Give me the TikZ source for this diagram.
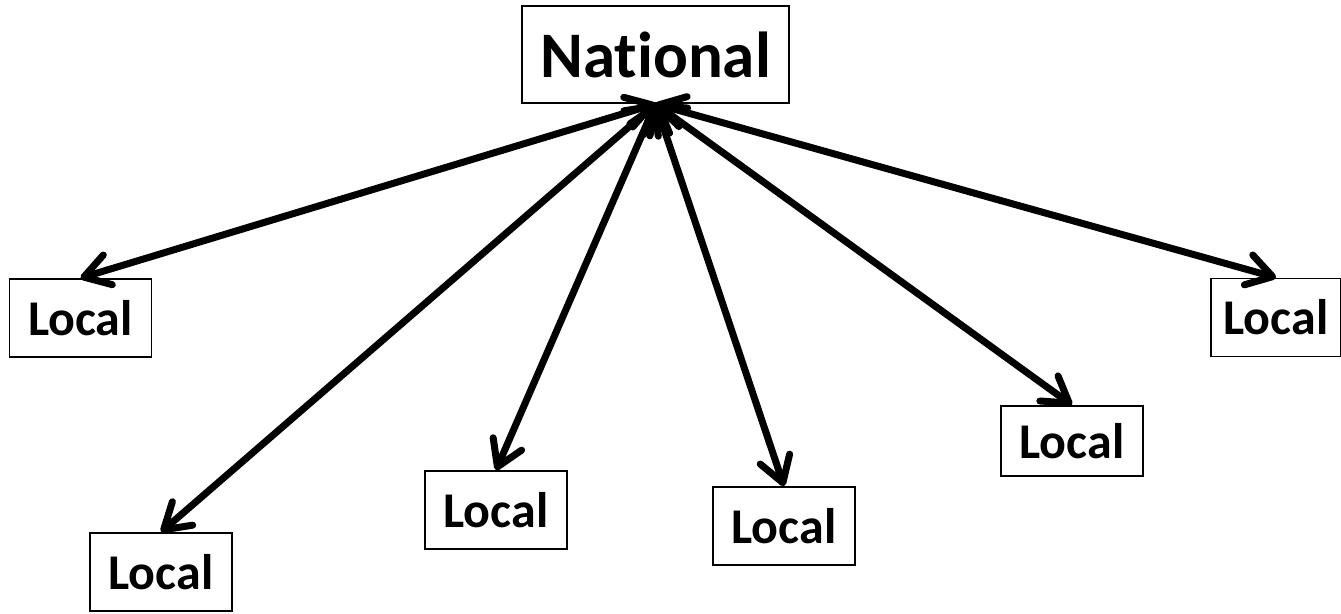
\documentclass[tikz,border=0pt]{standalone}
\usepackage{fontspec}
\setmainfont[Ligatures=NoCommon]{Carlito}
\usetikzlibrary{arrows.meta}
\begin{document}
\begin{tikzpicture}[x=1pt,y=-1pt,
  box/.style={draw=black,line width=1.8pt,inner sep=0pt,font=\bfseries\fontsize{50}{54}\selectfont,minimum height=78pt,minimum width=142pt},
  natbox/.style={box,font=\bfseries\fontsize{65}{70}\selectfont,minimum width=267pt,minimum height=97pt},
  link/.style={line width=7pt,line cap=round,{Straight Barb[round,length=25pt,width=31pt]}-{Straight Barb[round,length=25pt,width=31pt]}}]
\useasboundingbox (0,0) rectangle (1341,613);
\node[natbox] (nat) at (655.5,54.5) {National};
\node[box] (l1) at (80.5,318) {Local};
\node[box] (l2) at (161,572) {Local};
\node[box] (l3) at (496,510) {Local};
\node[box] (l4) at (784,526) {Local};
\node[box,minimum height=70pt] (l5) at (1072,441) {Local};
\node[box,minimum width=130pt] (l6) at (1276,317.5) {Local};
\foreach \n in {l1,l2,l3,l4,l5,l6}
  \draw[link] (nat.south) -- (\n.north);
\end{tikzpicture}
\end{document}
